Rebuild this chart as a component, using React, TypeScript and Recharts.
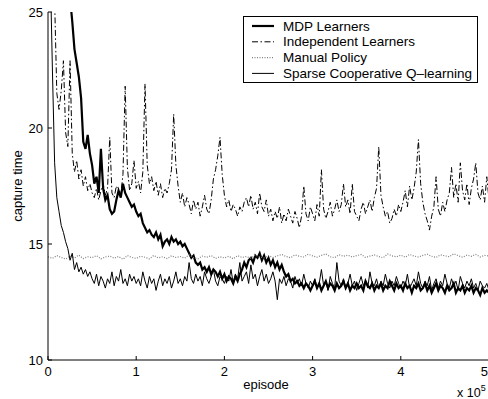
import { LineChart, Line, XAxis, YAxis, Legend } from "recharts"

const FONT = "'Liberation Sans', Arial, Helvetica, sans-serif"

// episodes are sampled every 0.025 x 10^5 (2500 episodes)
const STEP = 0.025
const MANUAL_STEP = 0.05

const xTicks = [0, 1, 2, 3, 4, 5]
const yTicks = [10, 15, 20, 25]

const mdpLearners = [
  40, 38, 36, 34, 32, 31, 30, 29, 28, 27,
  25.6, 24.6, 23.4, 22.8, 22.2, 21.3, 19.4, 19.1, 19.7, 18.9,
  18.4, 17.6, 17.9, 17.2, 19.1, 17.4, 16.9, 17.1, 16.5, 16.3,
  16.4, 16.9, 17.3, 17.0, 17.6, 17.2, 17.0, 16.8, 16.6, 16.7,
  16.4, 16.2, 16.3, 15.9, 15.7, 15.5, 15.6, 15.4, 15.3, 15.5,
  15.2, 15.4, 14.9, 15.1, 15.2, 15.0, 15.3, 15.1, 15.2, 15.0,
  15.1, 14.9, 15.0, 14.8, 14.6, 14.4, 14.5, 14.2, 14.1, 14.2,
  13.9, 14.0, 13.8, 14.0, 13.7, 13.9, 13.8, 13.6, 13.8, 13.5,
  13.7, 13.4, 13.6, 13.5, 13.3, 13.6, 13.4, 13.7, 13.9, 14.2,
  14.0, 14.3, 14.4, 14.2, 14.5, 14.4, 14.6, 14.3, 14.5, 14.2,
  14.4, 14.1, 14.3, 14.0, 14.2, 13.9, 14.1, 13.8, 13.6, 13.7,
  13.4, 13.5, 13.3, 13.4, 13.2, 13.3, 13.1, 13.3, 13.2, 13.0,
  13.2, 13.4, 13.1, 13.3, 13.0, 13.2, 13.4, 13.1, 13.3, 13.2,
  13.0, 13.3, 13.1, 13.2, 13.4, 13.1, 13.3, 13.0, 13.2, 13.1,
  13.3, 13.1, 13.2, 13.0, 13.4, 13.2, 13.1, 13.3, 13.0, 13.2,
  13.1, 13.3, 13.0, 13.2, 13.1, 13.4, 13.2, 13.0, 13.3, 13.1,
  13.2, 13.0, 13.3, 13.1, 13.2, 12.9, 13.2, 13.1, 13.3, 13.0,
  13.1, 13.3, 13.0, 13.2, 12.9, 13.1, 13.3, 13.0, 13.2, 13.1,
  12.9, 13.2, 13.0, 13.1, 13.3, 12.9, 13.1, 13.0, 13.2, 12.9,
  13.1, 13.0, 13.2, 12.9, 13.1, 13.0, 12.8, 13.1, 12.9, 13.0,
  12.9,
]

const independentLearners = [
  35, 32, 28, 25.5, 21.5, 20.8, 21.6, 22.9, 19.8, 19.2,
  22.9, 18.9, 18.1, 18.6, 17.8, 18.2, 17.5, 17.9, 17.3, 17.6,
  17.2, 17.0, 17.4, 16.9, 17.3, 17.6, 17.1, 17.4, 19.6, 17.2,
  17.0, 17.5, 17.3, 17.1, 18.0, 21.8, 18.3, 17.3, 17.6, 18.6,
  17.4, 17.7, 17.2, 18.1, 21.9, 18.4, 17.6, 17.9, 17.3, 17.7,
  17.1, 17.6, 17.0, 17.4, 17.2, 17.6, 18.2, 20.6, 18.4, 17.5,
  16.8, 17.2, 16.6, 17.0, 16.7, 16.3, 16.9, 16.5, 16.8, 16.2,
  16.6, 17.1, 16.5, 16.3, 16.9, 17.8, 18.2, 18.8, 19.6, 18.0,
  17.1, 16.6, 16.9, 16.4, 16.7, 16.5, 16.2, 16.6, 16.4, 16.8,
  17.0, 16.6, 17.1, 16.5, 16.8, 16.3, 17.2, 16.6, 16.4, 16.9,
  16.2, 16.5, 16.0, 16.4, 16.1, 16.6, 15.9, 16.3, 16.0, 16.5,
  16.2, 15.9, 16.4, 16.1, 15.7, 16.2, 17.5, 16.3, 16.0, 16.6,
  16.3, 16.0, 16.7, 16.2, 18.2, 16.5, 16.1, 16.4, 16.8, 16.2,
  16.5, 16.9, 16.4, 16.7, 17.6, 16.6, 16.9, 16.3, 17.6, 16.4,
  16.2, 16.0, 16.5, 16.8, 16.3, 16.6, 16.9, 16.4, 17.0, 17.4,
  19.2, 17.1, 16.6, 16.2, 16.4, 15.9, 16.1, 16.5, 16.2, 16.7,
  16.4, 16.8, 17.3, 16.6, 17.5, 16.9, 17.4, 18.1, 19.5, 17.6,
  16.8, 16.3, 16.0, 15.6, 16.2, 16.6, 17.9, 16.5, 16.2, 16.8,
  16.4, 16.9, 17.2, 18.3, 17.0, 17.6, 16.8, 18.5, 17.3, 16.9,
  17.6, 16.7, 17.4, 17.8, 18.5, 17.2, 16.9, 17.5, 16.8, 17.9,
  16.9,
]

const sparseCoopQ = [
  32, 27, 22.5, 18.5, 17.0, 16.4, 15.8, 15.5, 15.1, 14.8,
  14.3, 14.6, 13.9, 14.2, 13.8, 14.0, 13.7, 13.9, 13.6, 13.8,
  13.5, 13.3, 13.7, 13.2, 13.6, 13.4, 13.1, 13.5, 13.3, 13.8,
  13.2, 13.6, 13.4, 13.9, 13.3, 13.5, 13.2, 13.7, 13.4, 13.6,
  13.3, 13.5, 13.2, 13.8, 13.4, 13.1, 13.6, 13.3, 13.5, 13.0,
  13.4, 13.7, 13.2, 13.5, 13.3, 13.6, 13.1, 13.4, 13.8, 13.3,
  13.5, 13.2, 13.6, 13.4, 14.2, 13.5, 13.3, 13.7, 13.4, 13.6,
  13.2, 13.8, 13.5, 13.3, 13.6, 13.9, 13.4, 13.2, 13.6, 13.5,
  13.3, 13.6, 13.4, 13.9, 13.3, 13.7, 13.5, 14.2, 13.4, 13.6,
  13.8, 13.3, 14.1, 13.5, 13.7, 13.2, 13.6, 13.9, 13.4, 13.7,
  13.3, 13.5, 13.8, 13.4, 12.6, 13.5, 13.3, 13.6, 13.2, 13.5,
  13.4, 13.1, 13.6, 13.3, 13.5, 13.2, 13.7, 13.3, 13.1, 13.4,
  13.2, 13.5, 13.1, 13.3, 13.9, 13.2, 13.4, 13.0, 13.6, 13.3,
  13.1, 14.2, 13.4, 13.2, 13.5, 13.1, 13.3, 13.7, 13.2, 13.4,
  13.0, 13.3, 13.6, 13.2, 13.4, 13.1, 13.8, 13.3, 13.2, 13.5,
  13.1, 13.4, 13.2, 13.7, 13.3, 13.1, 13.4, 13.2, 13.6, 13.3,
  13.1, 13.4, 13.2, 13.7, 13.1, 13.3, 13.5, 13.2, 13.8, 13.3,
  13.1, 13.4, 13.2, 13.6, 13.0, 13.3, 13.5, 13.1, 13.4, 13.2,
  13.7, 13.3, 13.1, 13.5, 13.2, 13.4, 13.0, 13.6, 13.3, 13.1,
  13.4, 13.2, 13.5, 13.1, 13.3, 13.0, 13.4, 13.2, 13.1, 13.3,
  13.0,
]

const manualPolicy = [
  14.45, 14.38, 14.50, 14.42, 14.35, 14.48, 14.40, 14.52, 14.37, 14.45,
  14.41, 14.50, 14.36, 14.44, 14.48, 14.39, 14.46, 14.34, 14.50, 14.42,
  14.38, 14.47, 14.43, 14.36, 14.51, 14.40, 14.45, 14.37, 14.49, 14.42,
  14.46, 14.39, 14.53, 14.41, 14.36, 14.48, 14.43, 14.50, 14.38, 14.45,
  14.40, 14.47, 14.36, 14.50, 14.42, 14.46, 14.39, 14.52, 14.44, 14.40,
  14.50, 14.42, 14.49, 14.55, 14.46, 14.41, 14.53, 14.47, 14.44, 14.56,
  14.49, 14.43, 14.51, 14.57, 14.45, 14.41, 14.54, 14.47, 14.52, 14.44,
  14.50, 14.55, 14.42, 14.48, 14.53, 14.46, 14.41, 14.57, 14.49, 14.45,
  14.52, 14.43, 14.55, 14.48, 14.44, 14.51, 14.56, 14.47, 14.42, 14.53,
  14.49, 14.45, 14.58, 14.50, 14.43, 14.52, 14.47, 14.55, 14.44, 14.51,
  14.48,
]

const data = mdpLearners.map((v, i) => ({
  x: i * STEP,
  mdp: v,
  independent: independentLearners[i],
  sparse: sparseCoopQ[i],
}))

const manualData = manualPolicy.map((v, i) => ({ x: i * MANUAL_STEP, manual: v }))

const SERIES = [
  { name: "MDP Learners", stroke: "#000", width: 2.2, dash: undefined as string | undefined },
  { name: "Independent Learners", stroke: "#000", width: 1, dash: "6 2.5 1.5 2.5" },
  { name: "Manual Policy", stroke: "#808080", width: 1.2, dash: "1 1.5" },
  { name: "Sparse Cooperative Q–learning", stroke: "#000", width: 1, dash: undefined },
]

const renderLegend = () => (
  <svg width={236} height={68} style={{ display: "block" }}>
    <rect x={0.5} y={0.5} width={234} height={66} fill="#fff" stroke="#000" strokeWidth={1} />
    {SERIES.map((s, i) => {
      const y = 10 + i * 15.8
      return (
        <g key={s.name}>
          <line x1={9} x2={31} y1={y} y2={y} stroke={s.stroke} strokeWidth={s.width} strokeDasharray={s.dash} />
          <text x={40} y={y + 4.6} fontSize={13.5} fontFamily={FONT} fill="#000">
            {s.name}
          </text>
        </g>
      )
    })}
  </svg>
)

// bottom tick labels; the last one sits at the window edge, so keep it inside
const XTick = (props: any) => {
  const { x, y, payload } = props
  const edge = x > 480
  return (
    <text
      x={edge ? 488 : x}
      y={y}
      dy="0.71em"
      textAnchor={edge ? "end" : "middle"}
      fontSize={13}
      fontFamily={FONT}
      fill="#000"
    >
      {payload.value}
    </text>
  )
}

const tickStyle = { fill: "#000", fontSize: 13, fontFamily: FONT }

export default function App() {
  return (
    <div style={{ position: "absolute", left: 0, top: 0, width: 488, height: 399, overflow: "hidden", background: "#fff" }}>
      <LineChart
        width={491}
        height={399}
        data={data}
        margin={{ top: 12, right: 2, bottom: 0, left: 0 }}
        style={{ fontFamily: FONT }}
      >
        <XAxis
          dataKey="x"
          type="number"
          domain={[0, 5]}
          ticks={xTicks}
          allowDataOverflow
          height={39}
          tickSize={-4}
          tickMargin={11}
          tick={<XTick />}
          stroke="#000"
          tickLine={{ stroke: "#000" }}
          axisLine={{ stroke: "#000" }}
        />
        <XAxis
          xAxisId="top"
          orientation="top"
          dataKey="x"
          type="number"
          domain={[0, 5]}
          ticks={xTicks}
          height={0}
          tickSize={-4}
          tick={false}
          tickLine={{ stroke: "#000" }}
          axisLine={{ stroke: "#000" }}
        />
        <YAxis
          domain={[10, 25]}
          ticks={yTicks}
          allowDataOverflow
          width={48}
          tickSize={-4}
          tickMargin={9}
          tick={tickStyle}
          tickLine={{ stroke: "#000" }}
          axisLine={{ stroke: "#000" }}
        />
        <YAxis
          yAxisId="right"
          orientation="right"
          domain={[10, 25]}
          ticks={yTicks}
          width={0}
          tickSize={-4}
          tick={false}
          tickLine={{ stroke: "#000" }}
          axisLine={{ stroke: "#000" }}
        />
        <Line
          dataKey="mdp"
          name={SERIES[0].name}
          stroke={SERIES[0].stroke}
          strokeWidth={SERIES[0].width}
          dot={false}
          activeDot={false}
          isAnimationActive={false}
        />
        <Line
          dataKey="independent"
          name={SERIES[1].name}
          stroke={SERIES[1].stroke}
          strokeWidth={SERIES[1].width}
          strokeDasharray={SERIES[1].dash}
          dot={false}
          activeDot={false}
          isAnimationActive={false}
        />
        <Line
          data={manualData}
          dataKey="manual"
          name={SERIES[2].name}
          stroke={SERIES[2].stroke}
          strokeWidth={SERIES[2].width}
          strokeDasharray={SERIES[2].dash}
          dot={false}
          activeDot={false}
          isAnimationActive={false}
        />
        <Line
          dataKey="sparse"
          name={SERIES[3].name}
          stroke={SERIES[3].stroke}
          strokeWidth={SERIES[3].width}
          dot={false}
          activeDot={false}
          isAnimationActive={false}
        />
        <Legend
          layout="vertical"
          align="center"
          verticalAlign="middle"
          content={renderLegend}
          wrapperStyle={{ left: 243, top: 16, width: 236, height: 68 }}
        />
      </LineChart>
      <svg
        width={488}
        height={399}
        style={{ position: "absolute", left: 0, top: 0, pointerEvents: "none" }}
        fontFamily={FONT}
      >
        <text x={17.5} y={186} fontSize={13} textAnchor="middle" dominantBaseline="central" transform="rotate(-90 17.5 186)">
          capture time
        </text>
        <text x={266} y={389} fontSize={13} textAnchor="middle">
          episode
        </text>
        <text x={457} y={397} fontSize={12.5}>
          x 10
          <tspan dy={-6} fontSize={9}>5</tspan>
        </text>
      </svg>
    </div>
  )
}
